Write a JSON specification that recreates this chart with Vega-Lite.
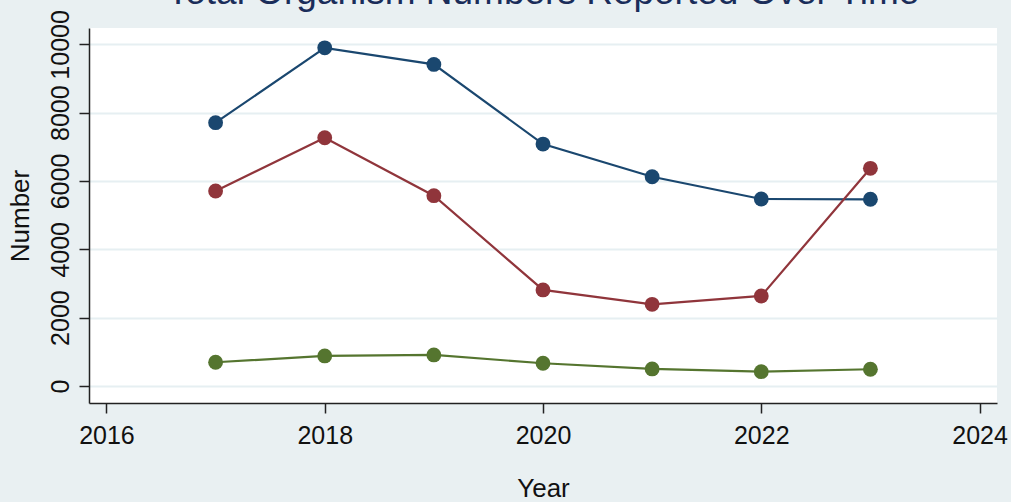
{
  "$schema": "https://vega.github.io/schema/vega-lite/v6.json",
  "autosize": {"type": "none"},
  "padding": {"left": 89, "top": 28, "right": 14, "bottom": 99},
  "width": 908,
  "height": 375,
  "background": "#e9f0f2",
  "title": {
    "text": "Total Organism Numbers Reported Over Time",
    "fontSize": 37,
    "font": "Liberation Sans",
    "fontWeight": "normal",
    "color": "#1a2d5a",
    "anchor": "middle",
    "frame": "group",
    "baseline": "alphabetic",
    "offset": 0,
    "dy": 31
  },
  "config": {
    "view": {"fill": "white", "stroke": null},
    "font": "Liberation Sans"
  },
  "data": {
    "values": [
      {"year": 2017, "series": "A", "value": 7707},
      {"year": 2018, "series": "A", "value": 9900},
      {"year": 2019, "series": "A", "value": 9414},
      {"year": 2020, "series": "A", "value": 7082},
      {"year": 2021, "series": "A", "value": 6125},
      {"year": 2022, "series": "A", "value": 5473},
      {"year": 2023, "series": "A", "value": 5465},
      {"year": 2017, "series": "B", "value": 5707},
      {"year": 2018, "series": "B", "value": 7267},
      {"year": 2019, "series": "B", "value": 5570},
      {"year": 2020, "series": "B", "value": 2810},
      {"year": 2021, "series": "B", "value": 2390},
      {"year": 2022, "series": "B", "value": 2634},
      {"year": 2023, "series": "B", "value": 6371},
      {"year": 2017, "series": "C", "value": 693},
      {"year": 2018, "series": "C", "value": 878},
      {"year": 2019, "series": "C", "value": 907},
      {"year": 2020, "series": "C", "value": 664},
      {"year": 2021, "series": "C", "value": 498},
      {"year": 2022, "series": "C", "value": 418},
      {"year": 2023, "series": "C", "value": 488}
    ]
  },
  "encoding": {
    "x": {
      "field": "year",
      "type": "quantitative",
      "scale": {"domain": [2015.84, 2024.16], "nice": false, "zero": false},
      "axis": {
        "title": "Year",
        "values": [2016, 2018, 2020, 2022, 2024],
        "format": "d",
        "grid": false,
        "domainColor": "#222",
        "domainWidth": 1.5,
        "tickColor": "#222",
        "tickWidth": 1.5,
        "tickSize": 10,
        "labelFontSize": 25,
        "labelColor": "#111",
        "labelPadding": 10,
        "titleFontSize": 26,
        "titleFontWeight": "normal",
        "titleColor": "#111",
        "titleBaseline": "alphabetic",
        "titleY": 93
      }
    },
    "y": {
      "field": "value",
      "type": "quantitative",
      "scale": {"domain": [-500, 10480], "nice": false, "zero": false},
      "axis": {
        "title": "Number",
        "values": [0, 2000, 4000, 6000, 8000, 10000],
        "format": "d",
        "grid": true,
        "gridColor": "#e6eff2",
        "gridWidth": 2,
        "domainColor": "#222",
        "domainWidth": 1.5,
        "tickColor": "#222",
        "tickWidth": 1.5,
        "tickSize": 10,
        "labelFontSize": 25,
        "labelColor": "#111",
        "labelAngle": -90,
        "labelAlign": "center",
        "labelBaseline": "alphabetic",
        "labelPadding": 11,
        "labelOverlap": false,
        "titleFontSize": 26,
        "titleFontWeight": "normal",
        "titleColor": "#111",
        "titleAngle": -90,
        "titleAlign": "center",
        "titleBaseline": "alphabetic",
        "titleX": -61,
        "titleY": 187.5
      }
    },
    "color": {
      "field": "series",
      "type": "nominal",
      "scale": {"domain": ["A", "B", "C"], "range": ["#1a476f", "#90353b", "#55752f"]},
      "legend": null
    }
  },
  "layer": [
    {"mark": {"type": "line", "strokeWidth": 2.2}},
    {"mark": {"type": "point", "filled": true, "size": 220, "opacity": 1, "shape": "circle"}}
  ]
}
